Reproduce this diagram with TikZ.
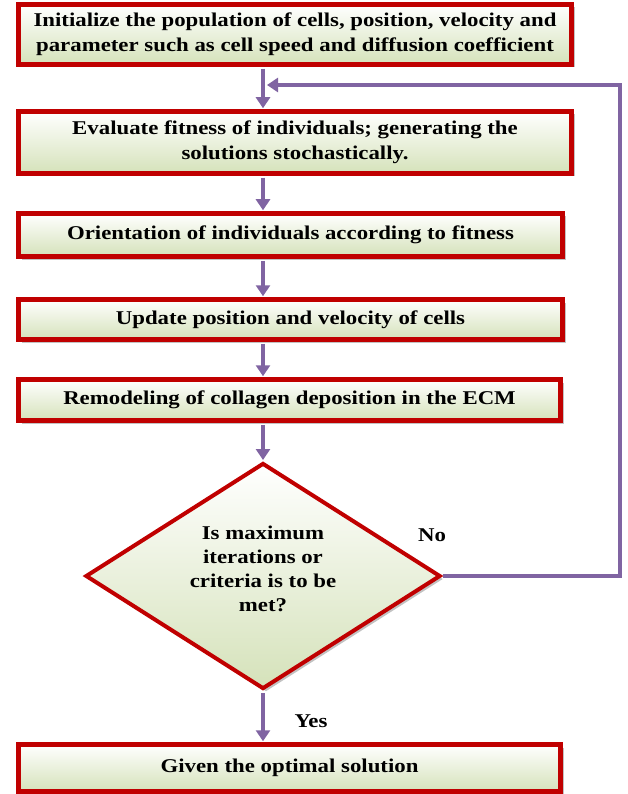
\documentclass[tikz,border=0pt]{standalone}
\usepackage{fontspec}
\setmainfont{Liberation Serif}[FakeStretch=1.17]
\usepackage{tikz}
\usetikzlibrary{arrows.meta,shapes.geometric,shadows}
\definecolor{boxred}{HTML}{C00000}
\definecolor{flowpurple}{HTML}{8064A2}
\definecolor{boxgreen}{HTML}{D5E2BA}
\tikzset{
    stage/.style={
           rectangle,
           draw=boxred, line width=4.5pt,
           top color=white, bottom color=boxgreen,
           drop shadow={shadow xshift=3pt, shadow yshift=-3pt, fill=black!40, opacity=0.6},
           font=\bfseries\fontsize{19.5}{25}\selectfont,
           align=center,
           inner sep=0pt,
           },
    check/.style={
           diamond, aspect=1.55,
           draw=boxred, line width=4pt,
           top color=white, bottom color=boxgreen,
           drop shadow={shadow xshift=3pt, shadow yshift=-3pt, fill=black!40, opacity=0.6},
           font=\bfseries\fontsize{19.5}{24}\selectfont,
           align=center,
           inner sep=0pt,
           },
    flow/.style={
           draw=flowpurple, line width=4pt,
           -{Triangle[width=14pt,length=11pt]},
           shorten <=2pt, shorten >=1pt,
           },
    tag/.style={font=\bfseries\fontsize{19.5}{24}\selectfont, inner sep=0pt},
}
\begin{document}
\begin{tikzpicture}[x=1pt, y=-1pt]
\useasboundingbox (0,0) rectangle (628,794);
\node[stage, minimum width=553pt, minimum height=60pt] (init) at (295,34.5)
    {Initialize the population of cells, position, velocity and\\parameter such as cell speed and diffusion coefficient};
\node[stage, minimum width=553pt, minimum height=62pt] (eval) at (295,142.5)
    {Evaluate fitness of individuals; generating the\\solutions stochastically.};
\node[stage, minimum width=544pt, minimum height=43pt] (orient) at (290.5,235)
    {Orientation of individuals according to fitness};
\node[stage, minimum width=544pt, minimum height=40pt] (update) at (290.5,319.5)
    {Update position and velocity of cells};
\node[stage, minimum width=542pt, minimum height=41pt] (remodel) at (289.5,400)
    {Remodeling of collagen deposition in the ECM};
\node[check, minimum width=355pt, minimum height=226pt] (crit) at (263,576)
    {Is maximum\\iterations or\\criteria is to be\\met?\rule[-14pt]{0pt}{1pt}};
\node[stage, minimum width=542pt, minimum height=47pt] (best) at (289.5,768)
    {Given the optimal solution};
\node[tag] (no) at (432,535) {No};
\node[tag] (yes) at (311,721) {Yes};
\coordinate (loop) at (620,85);
\coordinate (join) at (267,85);
% main flow
\path (init.south -| crit.north) edge[flow] (eval.north -| crit.north);
\path (eval.south -| crit.north) edge[flow] (orient.north -| crit.north);
\path (orient.south -| crit.north) edge[flow] (update.north -| crit.north);
\path (update.south -| crit.north) edge[flow] (remodel.north -| crit.north);
\path (remodel.south -| crit.north) edge[flow] (crit.north);
\path (crit.south) edge[flow] (best.north -| crit.south);
% back to evaluation
\draw[flow, shorten <=0pt, shorten >=0pt] (crit.east) -| (loop) -- (join);
\end{tikzpicture}
\end{document}
